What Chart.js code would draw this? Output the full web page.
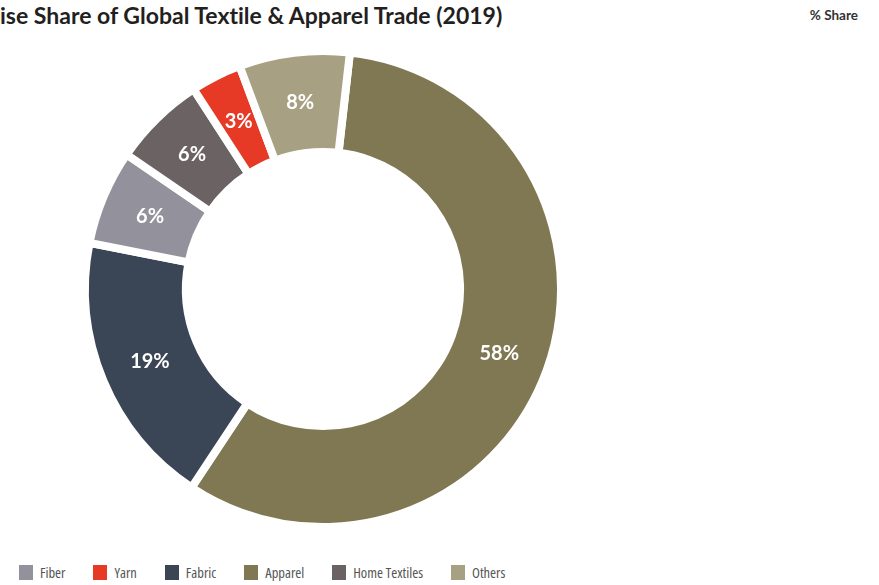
<!DOCTYPE html>
<html>
<head>
<meta charset="utf-8">
<script src="https://cdn.jsdelivr.net/npm/chart.js@4.4.1/dist/chart.umd.min.js"></script>
<style>
  html, body { margin: 0; padding: 0; background: #fff; }
  body { width: 879px; height: 585px; position: relative; overflow: hidden; }
  #title {
    position: absolute; left: 0; top: 0; white-space: nowrap;
    font: 700 23px Lato, "Noto Sans", sans-serif; color: #231f20; line-height: 30px;
    font-variant-ligatures: none;
  }
  #unit {
    position: absolute; right: 21px; top: 7px;
    font: 700 13.5px Lato, "Noto Sans", sans-serif; color: #333;
  }
  #chartBox { position: absolute; left: 0; top: 47px; width: 646px; height: 484px; }
  #legend {
    position: absolute; left: 19px; top: 563px; display: flex; align-items: center;
    font-family: "Open Sans", sans-serif; font-size: 14.5px; font-weight: 400;
    font-stretch: 75%; color: #555;
  }
  #legend .item { display: flex; align-items: center; margin-right: 28px; }
  #legend .box { width: 14px; height: 15px; margin-right: 7px; }
</style>
</head>
<body>
<div id="title">ise Share of Global Textile &amp; Apparel Trade (2019)</div>
<div id="unit">% Share</div>
<div id="chartBox"><canvas id="chart"></canvas></div>
<div id="legend"></div>

<script>
// segments, in the order they are drawn (clockwise from the top)
const categories = ["Apparel", "Fabric", "Fiber", "Home Textiles", "Yarn", "Others"];
const shares = [57.5, 18.8, 6.45, 6.3, 3.45, 7.5];
const colors = ["#7f7852", "#3a4556", "#93929c", "#6b6263", "#e63a26", "#a8a083"];
// legend shows the segments in this order
const legendOrder = ["Fiber", "Yarn", "Fabric", "Apparel", "Home Textiles", "Others"];

const sliceLabels = {
  id: "sliceLabels",
  afterDatasetsDraw(chart) {
    const ctx = chart.ctx;
    const meta = chart.getDatasetMeta(0);
    ctx.save();
    ctx.fillStyle = "#fff";
    ctx.font = "700 20px Lato, 'Noto Sans', sans-serif";
    ctx.textAlign = "center";
    ctx.textBaseline = "middle";
    meta.data.forEach((arc, i) => {
      const p = arc.tooltipPosition();
      ctx.fillText(Math.round(shares[i]) + "%", p.x, p.y);
    });
    ctx.restore();
  }
};

new Chart(document.getElementById("chart"), {
  type: "doughnut",
  data: {
    labels: categories,
    datasets: [
      {
        data: shares,
        backgroundColor: colors,
        borderColor: "#fff",
        borderWidth: 8,
        borderJoinStyle: "miter",
      },
    ],
  },
  options: {
    responsive: true,
    maintainAspectRatio: false,
    animation: false,
    events: [],
    rotation: 6.5,
    cutout: "57.6%",
    layout: { padding: 0 },
    plugins: {
      legend: { display: false },
      tooltip: { enabled: false },
    },
  },
  plugins: [sliceLabels],
});

const legend = document.getElementById("legend");
legendOrder.forEach((name) => {
  const item = document.createElement("div");
  item.className = "item";
  const box = document.createElement("span");
  box.className = "box";
  box.style.background = colors[categories.indexOf(name)];
  const text = document.createElement("span");
  text.textContent = name;
  item.appendChild(box);
  item.appendChild(text);
  legend.appendChild(item);
});
</script>
</body>
</html>
